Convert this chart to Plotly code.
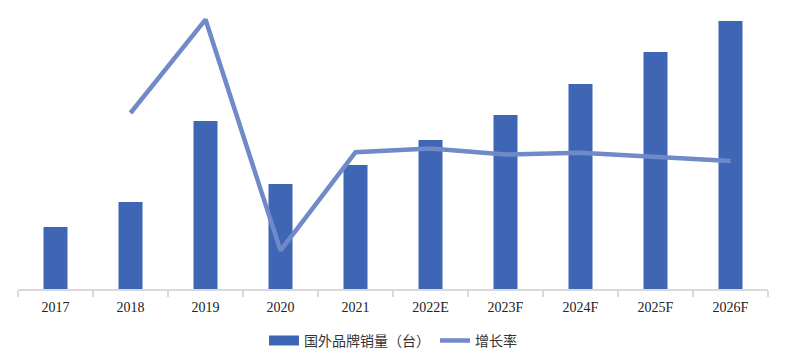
import plotly.graph_objects as go

categories = ["2017", "2018", "2019", "2020", "2021", "2022E", "2023F", "2024F", "2025F", "2026F"]
sales = [6200, 8700, 16800, 10500, 12400, 14900, 17400, 20500, 23700, 26800]
growth = [None, 40.3, 93.1, -37.5, 18.1, 20.2, 16.8, 17.8, 15.6, 13.1]

bar_name = "国外品牌销量（台）"
line_name = "增长率"
bar_color = "#3F66B4"
line_color = "#7089C9"

font_family = "Liberation Serif, Times New Roman, Noto Sans CJK SC, serif"

fig = go.Figure()
fig.add_trace(go.Bar(
    x=categories, y=sales, name=bar_name, showlegend=False,
    marker=dict(color=bar_color, line=dict(width=0)),
    width=0.32,
))
# legend entry for bars drawn as a wide rectangle swatch
fig.add_trace(go.Scatter(
    x=[None], y=[None], name=bar_name, mode="lines",
    line=dict(color=bar_color, width=10),
))
fig.add_trace(go.Scatter(
    x=categories, y=growth, name=line_name, yaxis="y2",
    mode="lines", line=dict(color=line_color, width=4.5),
    connectgaps=False,
))

# page body has an 8px default margin; figure sized to fit the 794x358 window
fig.update_layout(
    width=778, height=342,
    margin=dict(l=10, r=18, t=2, b=61, autoexpand=False),
    paper_bgcolor="white", plot_bgcolor="white",
    font=dict(family=font_family, size=14, color="#222222"),
    showlegend=True,
    legend=dict(orientation="h", x=0.5, xanchor="center", y=-0.186, yanchor="middle",
                font=dict(family="Noto Sans CJK SC, serif", size=14, color="#333333"),
                itemwidth=30, tracegroupgap=0),
    xaxis=dict(
        type="category", showline=True, linecolor="#D9D9D9", linewidth=1.5,
        ticks="outside", tickson="boundaries", ticklen=6, tickcolor="#D9D9D9", tickwidth=1.5,
        ticklabelstandoff=4,
        showgrid=False, tickfont=dict(family=font_family, size=14, color="#222222"),
    ),
    yaxis=dict(range=[0, 27900], visible=False, showgrid=False),
    yaxis2=dict(range=[-59.2, 98.5], overlaying="y", side="right", visible=False, showgrid=False),
    bargap=0.68,
)

fig.write_html("out.html")
